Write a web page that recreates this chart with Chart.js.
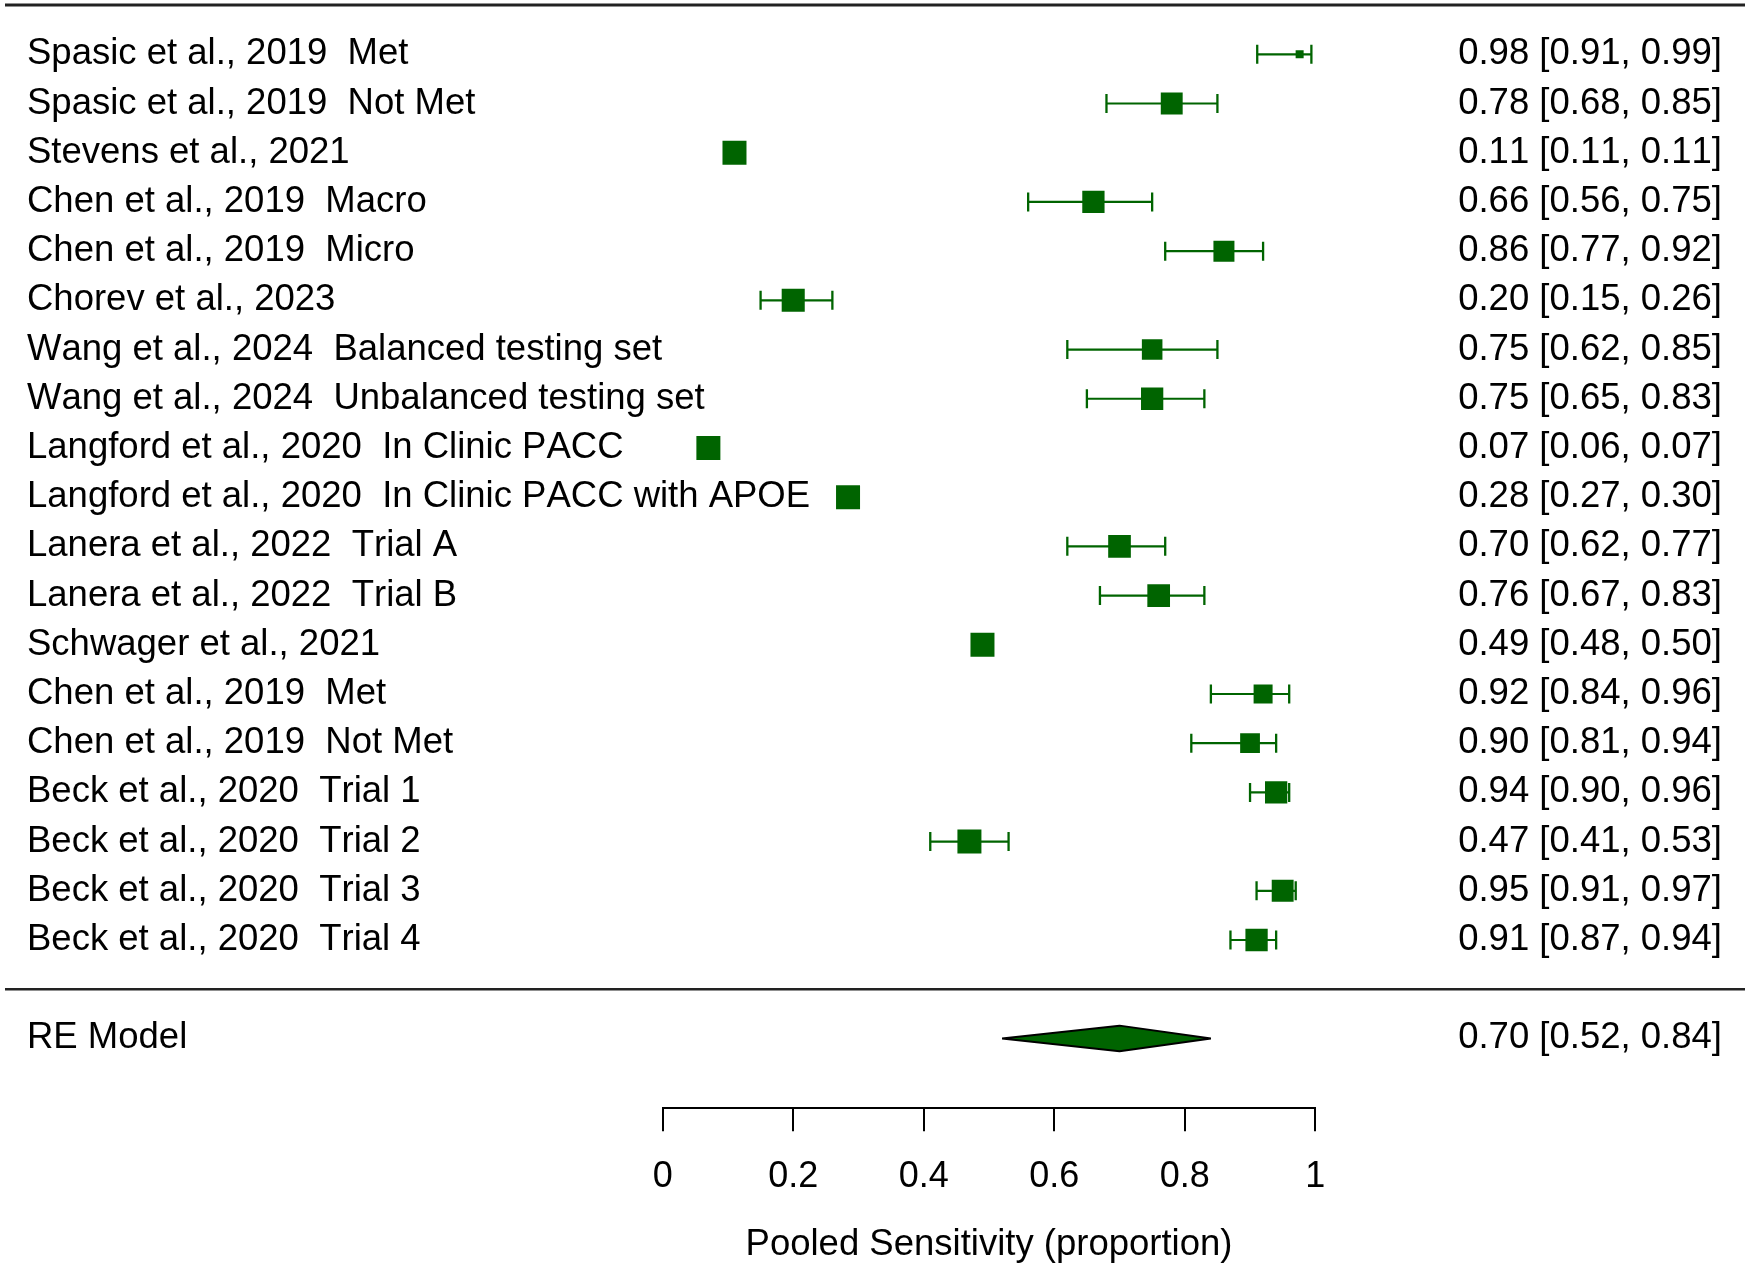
<!DOCTYPE html>
<html>
<head>
<meta charset="utf-8">
<title>Forest plot - pooled sensitivity</title>
<script src="https://cdn.jsdelivr.net/npm/chart.js@4.4.0/dist/chart.umd.min.js"></script>
<style>
  html, body { margin: 0; padding: 0; background: #fff; }
  #wrap { width: 1750px; height: 1267px; position: relative; }
</style>
</head>
<body>
<div id="wrap"><canvas id="forest"></canvas></div>
<script>
// Studies, from top to bottom
const studies = [
    'Spasic et al., 2019  Met',
    'Spasic et al., 2019  Not Met',
    'Stevens et al., 2021',
    'Chen et al., 2019  Macro',
    'Chen et al., 2019  Micro',
    'Chorev et al., 2023',
    'Wang et al., 2024  Balanced testing set',
    'Wang et al., 2024  Unbalanced testing set',
    'Langford et al., 2020  In Clinic PACC',
    'Langford et al., 2020  In Clinic PACC with APOE',
    'Lanera et al., 2022  Trial A',
    'Lanera et al., 2022  Trial B',
    'Schwager et al., 2021',
    'Chen et al., 2019  Met',
    'Chen et al., 2019  Not Met',
    'Beck et al., 2020  Trial 1',
    'Beck et al., 2020  Trial 2',
    'Beck et al., 2020  Trial 3',
    'Beck et al., 2020  Trial 4'
];
const estimates = [0.976, 0.78, 0.11, 0.66, 0.86, 0.20, 0.75, 0.75, 0.07, 0.284, 0.70, 0.76, 0.49, 0.92, 0.90, 0.94, 0.47, 0.95, 0.91];
const ciLower   = [0.911, 0.68, 0.11, 0.56, 0.77, 0.15, 0.62, 0.65, 0.06, 0.27, 0.62, 0.67, 0.48, 0.84, 0.81, 0.90, 0.41, 0.91, 0.87];
const ciUpper   = [0.994, 0.85, 0.11, 0.75, 0.92, 0.26, 0.85, 0.83, 0.07, 0.298, 0.77, 0.83, 0.50, 0.96, 0.94, 0.96, 0.53, 0.97, 0.94];
// study weights (%), estimated from the square sizes
const weights   = [2.50, 5.33, 5.76, 5.41, 5.15, 5.57, 5.06, 5.41, 5.76, 5.76, 5.49, 5.49, 5.76, 4.74, 4.90, 5.41, 5.76, 5.33, 5.41];

// pooled random-effects model: estimate, lower, upper
const pooledLabel = 'RE Model';
const pooled = [0.70, 0.52, 0.84];

const xTicks = [0, 0.2, 0.4, 0.6, 0.8, 1];
const xTitle = 'Pooled Sensitivity (proportion)';

const GREEN = '#006400';
const FONT = '"Liberation Sans", Arial, Helvetica, sans-serif';
const pooledRow = studies.length + 1;
const sepRow = studies.length;

// square size as in metafor: linear in weight, from 0.5 to 1.5 cex
const wMin = Math.min(...weights), wMax = Math.max(...weights);
const squareRadius = weights.map(w => (0.5 + (w - wMin) / (wMax - wMin)) * 16 / Math.SQRT2);

const datasets = [];

datasets.push({
    type: 'scatter',
    data: estimates.map((v, i) => ({ x: v, y: i })),
    pointStyle: 'rect',
    pointRadius: squareRadius,
    backgroundColor: GREEN,
    borderWidth: 0,
    order: 0
});

// diamond for the pooled estimate
const dh = 0.26;
datasets.push({
    type: 'line',
    data: [
        { x: pooled[1], y: pooledRow },
        { x: pooled[0], y: pooledRow - dh },
        { x: pooled[2], y: pooledRow },
        { x: pooled[0], y: pooledRow + dh },
        { x: pooled[1], y: pooledRow }
    ],
    borderColor: '#000',
    borderWidth: 2,
    borderJoinStyle: 'bevel',
    backgroundColor: GREEN,
    fill: 'shape',
    pointRadius: 0,
    tension: 0,
    order: 1
});

// confidence intervals with caps
studies.forEach((s, i) => {
    datasets.push({
        type: 'line',
        data: [{ x: ciLower[i], y: i }, { x: ciUpper[i], y: i }],
        borderColor: GREEN,
        borderWidth: 2.2,
        pointStyle: 'line',
        pointRotation: 90,
        pointRadius: 9.5,
        pointBorderWidth: 2.3,
        pointBorderColor: GREEN,
        fill: false,
        order: 2
    });
});

const fmt = v => v.toFixed(2);

// texts and horizontal rules
const forestText = {
    id: 'forestText',
    afterDraw(chart) {
        const ctx = chart.ctx;
        const ys = chart.scales.y;
        ctx.save();

        ctx.strokeStyle = '#222';
        ctx.lineWidth = 3;
        ctx.beginPath();
        ctx.moveTo(5, ys.getPixelForValue(-1));
        ctx.lineTo(1745, ys.getPixelForValue(-1));
        ctx.stroke();
        ctx.lineWidth = 2.5;
        ctx.beginPath();
        ctx.moveTo(5, ys.getPixelForValue(sepRow));
        ctx.lineTo(1745, ys.getPixelForValue(sepRow));
        ctx.stroke();

        ctx.fillStyle = '#000';
        ctx.fontKerning = 'none';
        ctx.textBaseline = 'alphabetic';
        ctx.textAlign = 'left';
        ctx.font = '36.5px ' + FONT;
        studies.forEach((s, i) => {
            ctx.fillText(s, 27, ys.getPixelForValue(i) + 10);
        });
        ctx.fillText(pooledLabel, 27, ys.getPixelForValue(pooledRow) + 10);

        ctx.textAlign = 'right';
        estimates.forEach((v, i) => {
            const txt = fmt(v) + ' [' + fmt(ciLower[i]) + ', ' + fmt(ciUpper[i]) + ']';
            ctx.fillText(txt, 1722, ys.getPixelForValue(i) + 10);
        });
        ctx.fillText(fmt(pooled[0]) + ' [' + fmt(pooled[1]) + ', ' + fmt(pooled[2]) + ']', 1722, ys.getPixelForValue(pooledRow) + 10);
        ctx.restore();
    }
};

const ctx = document.getElementById('forest').getContext('2d');
const chart = new Chart(ctx, {
    data: { datasets: datasets },
    options: {
        responsive: true,
        maintainAspectRatio: false,
        devicePixelRatio: 1,
        animation: false,
        events: [],
        layout: {
            autoPadding: false,
            padding: { left: 662.7, right: 434.7, top: 5.1, bottom: 0 }
        },
        plugins: {
            legend: { display: false },
            tooltip: { enabled: false }
        },
        scales: {
            x: {
                type: 'linear',
                position: 'bottom',
                min: 0,
                max: 1,
                afterBuildTicks: scale => {
                    scale.ticks = xTicks.map(v => ({ value: v }));
                },
                ticks: {
                    color: '#000',
                    font: { family: FONT, size: 36 },
                    padding: 24,
                    maxRotation: 0,
                    callback: v => String(v)
                },
                grid: {
                    drawOnChartArea: false,
                    drawTicks: true,
                    tickLength: 23,
                    color: '#000',
                    lineWidth: 2
                },
                border: { display: true, color: '#000', width: 2 },
                title: {
                    display: true,
                    text: xTitle,
                    color: '#000',
                    font: { family: FONT, size: 36.5 },
                    padding: { top: 0, bottom: 0.5 }
                },
                afterFit: scale => { scale.height = 158.7; }
            },
            y: {
                type: 'linear',
                display: false,
                reverse: true,
                min: -1,
                max: 21.42
            }
        }
    },
    plugins: [forestText]
});
</script>
</body>
</html>
